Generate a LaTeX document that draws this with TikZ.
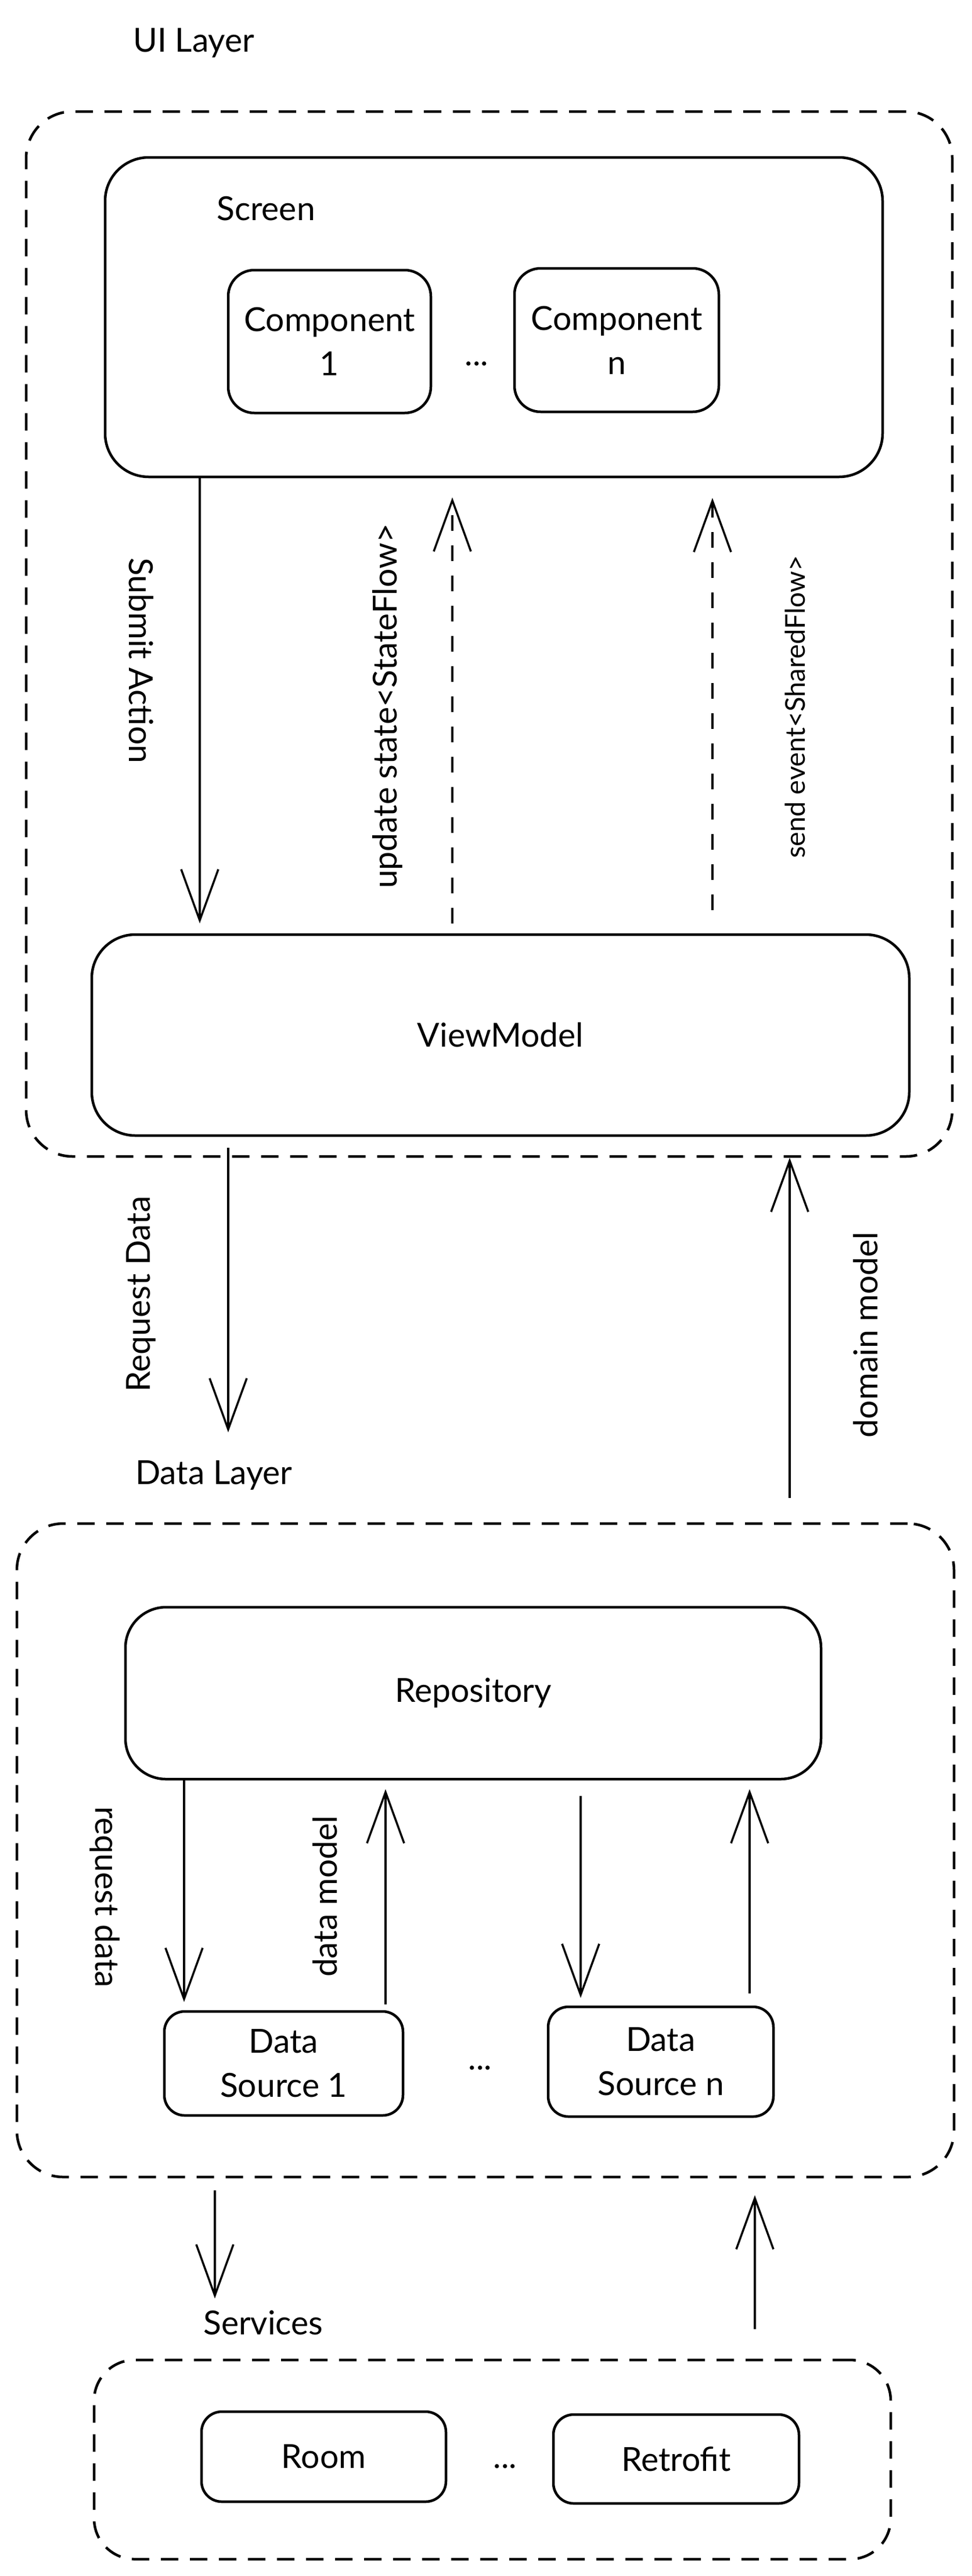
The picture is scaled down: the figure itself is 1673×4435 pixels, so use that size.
\documentclass[tikz,border=0pt]{standalone}
\usepackage{fontspec}
\setmainfont{Lato}
\usetikzlibrary{arrows.meta}
\begin{document}
\begin{tikzpicture}[x=1pt,y=-1pt,
  every node/.style={font=\fontsize{57}{76}\selectfont, inner sep=0pt},
  box/.style={draw, line width=4.5pt, rounded corners=#1, align=center},
  box/.default=70pt,
  group/.style={draw, line width=4.5pt, dash pattern=on 30pt off 20pt, rounded corners=80pt},
  arr/.style={line width=3.5pt, -{Straight Barb[length=88pt,width=64pt,line width=3.5pt]}},
  darr/.style={arr, dash pattern=on 27pt off 25pt},
  lbl/.style={anchor=base west},
]
\fill[white] (0,0) rectangle (1673,4435);
\useasboundingbox (0,0) rectangle (1673,4435);

% x positions of connectors
\coordinate (xa) at (344,0);
\coordinate (xb) at (779,0);
\coordinate (xc) at (1227,0);
\coordinate (xr) at (393,0);
\coordinate (xd) at (1360,0);
\coordinate (x1) at (317,0);
\coordinate (x2) at (664,0);
\coordinate (x3) at (1000,0);
\coordinate (x4) at (1291,0);
\coordinate (x5) at (370,0);
\coordinate (x6) at (1300,0);

% UI layer
\node[lbl] (uilabel) at (229,89) {UI Layer};
\node[group, minimum width=1595pt, minimum height=1799pt] (uigrp) at (842.5,1091.5) {};
\node[box=75pt, minimum width=1339pt, minimum height=550pt] (screen) at (850.5,546) {};
\node[lbl] (screenlabel) at (373,379) {Screen};
\node[box=45pt, minimum width=349pt, minimum height=246pt] (comp1) at (567.5,588) {Component\\1};
\node (dots1) at (821,626) {...};
\node[box=45pt, minimum width=352pt, minimum height=247pt] (compn) at (1062,585.5) {Component\\n};
\node[box=75pt, minimum width=1408pt, minimum height=346pt] (vm) at (862,1782) {ViewModel};

\draw[arr, shorten >=17pt] (screen.south -| xa) -- (vm.north -| xa);
\draw[darr, shorten <=17pt, shorten >=33pt] (vm.north -| xb) -- (screen.south -| xb);
\draw[darr, shorten <=40pt, shorten >=34pt] (vm.north -| xc) -- (screen.south -| xc);

\node[rotate=-90] (lsubmit) at (243,1137) {Submit Action};
\node[rotate=90] (lupdate) at (667,1216) {update state<StateFlow>};
\node[rotate=90, font=\fontsize{47}{56}\selectfont] (lsend) at (1369,1217) {send event<SharedFlow>};

% between layers
\node[lbl] (datalabel) at (233,2555) {Data Layer};
\node[group, minimum width=1614pt, minimum height=1125pt] (datagrp) at (836,3185.5) {};
\coordinate (rdend) at (393,2466);
\draw[arr, shorten <=19pt] (vm.south -| xr) -- (rdend);
\draw[arr, shorten <=42pt] (datagrp.north -| xd) -- (uigrp.south -| xd);
\node[rotate=90] (lreq) at (243,2228) {Request Data};
\node[rotate=90] (ldomain) at (1491,2298) {domain model};

% Data layer
\node[box=70pt, minimum width=1198pt, minimum height=296pt] (repo) at (815,2915) {Repository};
\node[box=35pt, minimum width=411pt, minimum height=179pt] (ds1) at (488.5,3552.5) {Data\\Source 1};
\node (dots2) at (827,3560) {...};
\node[box=35pt, minimum width=388pt, minimum height=189pt] (dsn) at (1138,3549.5) {Data\\Source n};

\draw[arr, shorten >=14pt] (repo.south -| x1) -- (ds1.north -| x1);
\draw[arr, shorten <=10pt, shorten >=15pt] (ds1.north -| x2) -- (repo.south -| x2);
\draw[arr, shorten <=27pt, shorten >=13pt] (repo.south -| x3) -- (dsn.north -| x3);
\draw[arr, shorten <=21pt, shorten >=15pt] (dsn.north -| x4) -- (repo.south -| x4);
\node[rotate=-90] (lreqdata) at (181,3266) {request data};
\node[rotate=90] (ldatamodel) at (560,3265) {data model};

% Services
\node[lbl] (svlabel) at (350,4019) {Services};
\node[group, rounded corners=70pt, minimum width=1372pt, minimum height=343pt] (svgrp) at (848,4234.5) {};
\draw[arr, shorten <=21pt, shorten >=20pt] (datagrp.south -| x5) -- (svlabel.north -| x5);
\draw[arr, shorten <=51pt, shorten >=29pt] (svgrp.north -| x6) -- (datagrp.south -| x6);
\node[box=35pt, minimum width=421pt, minimum height=155pt] (room) at (557.5,4229.5) {Room};
\node (dots3) at (870,4246) {...};
\node[box=35pt, minimum width=423pt, minimum height=153pt] (retrofit) at (1164.5,4233.5) {Retrofit};
\end{tikzpicture}
\end{document}
